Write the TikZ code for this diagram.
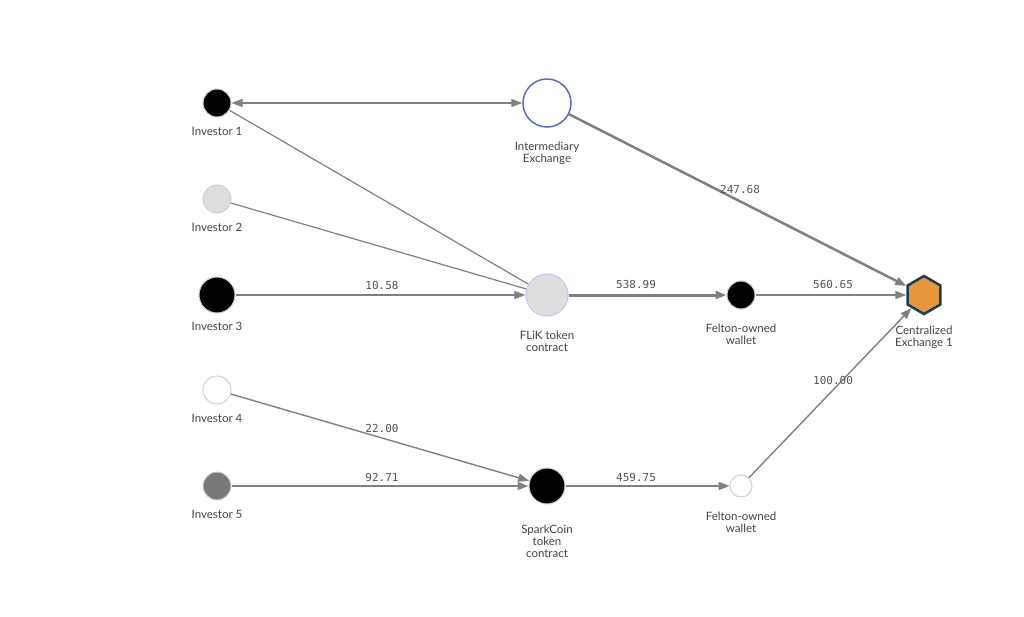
\documentclass[tikz,border=0pt]{standalone}
\usepackage{fontspec}
\setmainfont{Lato}
\newfontfamily\monofont{DejaVu Sans Mono}
\usetikzlibrary{arrows.meta,shapes.geometric}
\definecolor{edgegray}{HTML}{808080}
\definecolor{labgray}{HTML}{555555}
\definecolor{txtgray}{HTML}{444444}
\definecolor{ringgray}{HTML}{D0D0D0}
\definecolor{interblue}{HTML}{5C6BC0}
\definecolor{flikring}{HTML}{C8CBEE}
\definecolor{hexfill}{HTML}{E8963C}
\definecolor{hexring}{HTML}{1E3D52}
\tikzset{
  dot/.style={circle, inner sep=0pt, draw=ringgray, line width=1pt},
  nlabel/.style={align=center, text=txtgray, font=\fontsize{11.5}{12}\selectfont, inner sep=0pt},
  elabel/.style={text=labgray, font=\monofont\fontsize{11}{12}\selectfont, inner sep=0pt},
  flow/.style={draw=edgegray, line width=1.4pt, -{Triangle[length=11pt,width=8pt]}},
  plain/.style={draw=edgegray, line width=1.2pt},
  heavy/.style={draw=edgegray, line width=3pt, -{Triangle[length=11pt,width=8pt]}},
}
\begin{document}
\begin{tikzpicture}[x=1pt,y=-1pt]
\useasboundingbox (0,0) rectangle (1024,617);
% nodes
\node[dot, fill=black, minimum size=28pt] (i1) at (217,103) {};
\node[dot, fill=black!13, minimum size=28pt] (i2) at (217,199) {};
\node[dot, fill=black, minimum size=36pt] (i3) at (217,295) {};
\node[dot, fill=white, minimum size=28pt] (i4) at (217,390) {};
\node[dot, fill=black!53, minimum size=28pt] (i5) at (217,486) {};
\node[circle, inner sep=0pt, draw=interblue, line width=1.5pt, fill=white, minimum size=48pt] (ie) at (547,103) {};
\node[circle, inner sep=0pt, draw=flikring, line width=1.2pt, fill=black!13, minimum size=42pt] (fl) at (547,295) {};
\node[dot, fill=black, minimum size=28pt] (w1) at (741,295) {};
\node[dot, fill=black, minimum size=36pt] (sc) at (547,486) {};
\node[dot, fill=white, minimum size=22pt] (w2) at (741,486) {};
\node[regular polygon, regular polygon sides=6, shape border rotate=30, inner sep=0pt, minimum size=38pt, fill=hexfill, draw=hexring, line width=2.5pt] (ce) at (924,295) {};
% node labels
\node[nlabel] (i1l) at (217,131) {Investor 1};
\node[nlabel] (i2l) at (217,227) {Investor 2};
\node[nlabel] (i3l) at (217,326) {Investor 3};
\node[nlabel] (i4l) at (217,418) {Investor 4};
\node[nlabel] (i5l) at (217,514) {Investor 5};
\node[nlabel] (iel) at (547,153) {Intermediary\\Exchange};
\node[nlabel] (fll) at (547,341) {FLiK token\\contract};
\node[nlabel] (w1l) at (741,334) {Felton-owned\\wallet};
\node[nlabel] (cel) at (924,337) {Centralized\\Exchange 1};
\node[nlabel] (scl) at (547,541) {SparkCoin\\token\\contract};
\node[nlabel] (w2l) at (741,522) {Felton-owned\\wallet};
% edges
\draw[plain, {Triangle[length=11pt,width=8pt]}-{Triangle[length=11pt,width=8pt]}] (i1) -- (ie);
\draw[plain] (i1) -- (fl);
\draw[plain] (i2) -- (fl);
\draw[flow] (i3) -- (fl);
\draw[heavy] (fl) -- (w1);
\draw[flow] (w1) -- (ce);
\draw[heavy, line width=2.5pt] (ie) -- (ce);
\draw[flow] (i4) -- (sc);
\draw[flow] (i5) -- (sc);
\draw[flow] (sc) -- (w2);
\draw[flow] (w2) -- (ce);
% edge labels
\node[elabel] (l1) at (382,285) {10.58};
\node[elabel] (l2) at (636,284) {538.99};
\node[elabel] (l3) at (833,284) {560.65};
\node[elabel] (l4) at (740,189) {247.68};
\node[elabel] (l5) at (382,428) {22.00};
\node[elabel] (l6) at (382,477) {92.71};
\node[elabel] (l7) at (636,477) {459.75};
\node[elabel] (l8) at (833,380) {100.00};
\end{tikzpicture}
\end{document}
